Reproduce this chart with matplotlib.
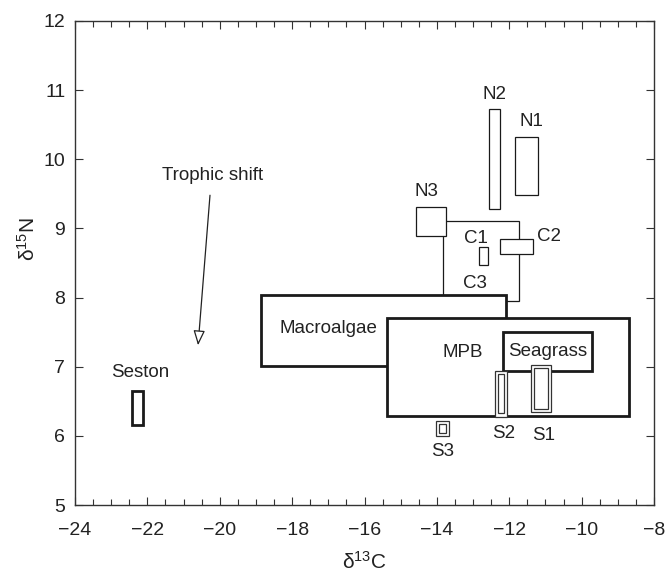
import matplotlib
matplotlib.use("Agg")
import matplotlib.pyplot as plt
from matplotlib.patches import Rectangle
from matplotlib.ticker import MultipleLocator

plt.rcParams['font.family'] = ['Liberation Sans', 'DejaVu Sans']
plt.rcParams['mathtext.default'] = 'regular'

# Source / consumer ranges (d13C min, max ; d15N min, max)
box_names = ['C3', 'N1', 'N2', 'N3', 'C1', 'C2', 'Macroalgae', 'MPB', 'Seagrass', 'Seston']
box_c_lo = [-13.83, -11.84, -12.56, -14.58, -12.84, -12.26, -18.85, -15.38, -12.17, -22.43]
box_c_hi = [-11.73, -11.21, -12.26, -13.75, -12.59, -11.34, -12.10, -8.69, -9.71, -22.12]
box_n_lo = [7.95, 9.48, 9.28, 8.89, 8.47, 8.63, 7.01, 6.29, 6.94, 6.16]
box_n_hi = [9.11, 10.32, 10.73, 9.31, 8.73, 8.85, 8.04, 7.70, 7.50, 6.65]
thick = ['Macroalgae', 'MPB', 'Seagrass', 'Seston']

# Sediment samples, drawn as double boxes (outer / inner)
s_names = ['S1', 'S2', 'S3']
s_c_lo = [-11.40, -12.39, -14.03]
s_c_hi = [-10.85, -12.06, -13.67]
s_n_lo = [6.34, 6.27, 6.00]
s_n_hi = [7.02, 6.94, 6.21]
s_in_c_lo = [-11.32, -12.31, -13.94]
s_in_c_hi = [-10.93, -12.15, -13.75]
s_in_n_lo = [6.39, 6.33, 6.04]
s_in_n_hi = [6.98, 6.89, 6.17]

# label positions (layout)
label_pos = {
    'C3': (-12.95, 8.2), 'N1': (-11.4, 10.55), 'N2': (-12.4, 10.93),
    'N3': (-14.3, 9.54), 'C1': (-12.92, 8.86), 'C2': (-10.9, 8.88),
    'Macroalgae': (-17.0, 7.55), 'MPB': (-13.28, 7.2), 'Seagrass': (-10.93, 7.22),
    'Seston': (-22.2, 6.91), 'S1': (-11.04, 6.0), 'S2': (-12.15, 6.04), 'S3': (-13.83, 5.77),
}

fig = plt.figure(figsize=(6.65, 5.75), dpi=100)
ax = fig.add_axes([0.1128, 0.1217, 0.8707, 0.8418])

for i, name in enumerate(box_names):
    lw = 2.0 if name in thick else 0.9
    ax.add_patch(Rectangle((box_c_lo[i], box_n_lo[i]), box_c_hi[i] - box_c_lo[i],
                           box_n_hi[i] - box_n_lo[i], facecolor='white',
                           edgecolor='#1a1a1a', linewidth=lw, zorder=2 + i * 0.1))

for i, name in enumerate(s_names):
    ax.add_patch(Rectangle((s_c_lo[i], s_n_lo[i]), s_c_hi[i] - s_c_lo[i], s_n_hi[i] - s_n_lo[i],
                           facecolor='white', edgecolor='#333333', linewidth=0.9, zorder=4))
    ax.add_patch(Rectangle((s_in_c_lo[i], s_in_n_lo[i]), s_in_c_hi[i] - s_in_c_lo[i],
                           s_in_n_hi[i] - s_in_n_lo[i], facecolor='white',
                           edgecolor='#333333', linewidth=0.9, zorder=4.1))

for name, (lx, ly) in label_pos.items():
    ax.text(lx, ly, name, ha='center', va='center', fontsize=13.5, color='#222222', zorder=5)

# trophic shift arrow
ax.annotate('', xy=(-20.6, 7.31), xytext=(-20.27, 9.48),
            arrowprops=dict(arrowstyle='-|>,head_length=0.9,head_width=0.35', facecolor='white',
                            edgecolor='#222222', linewidth=0.9, shrinkA=0, shrinkB=0))
ax.text(-20.2, 9.77, 'Trophic shift', ha='center', va='center', fontsize=13.5, color='#222222')

ax.set_xlim(-24, -8)
ax.set_ylim(5, 12)
ax.xaxis.set_major_locator(MultipleLocator(2))
ax.xaxis.set_minor_locator(MultipleLocator(0.5))
ax.yaxis.set_major_locator(MultipleLocator(1))
ax.tick_params(which='both', direction='in', top=True, right=True, labelsize=14,
               color='#333333', width=0.8, labelcolor='#222222')
ax.tick_params(which='major', length=6)
ax.tick_params(which='minor', length=4)
ax.tick_params(axis='x', which='major', pad=12)
ax.tick_params(axis='y', which='major', pad=7)
ax.set_xticklabels([f'\u2212{abs(int(v))}' for v in ax.get_xticks()])
for sp in ax.spines.values():
    sp.set_linewidth(1.0)
    sp.set_color('#333333')

ax.set_xlabel('δ$^{13}$C', fontsize=15, labelpad=9, color='#222222')
ax.set_ylabel('δ$^{15}$N', fontsize=15, color='#222222')
ax.yaxis.set_label_coords(-0.063, 0.55)

fig.savefig('out.png', dpi=100)
